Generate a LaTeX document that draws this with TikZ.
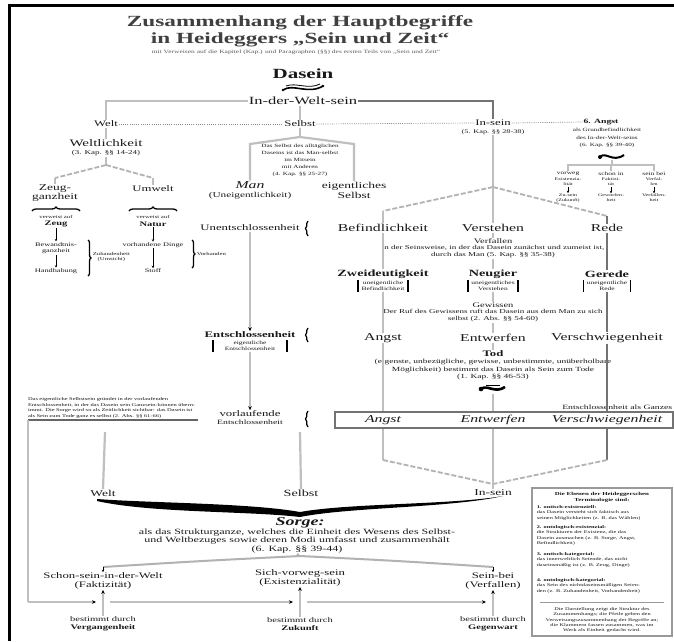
\documentclass[tikz,border=0pt]{standalone}
\usepackage{fontspec}
\setmainfont{Liberation Serif}[FakeStretch=1.5]
\usetikzlibrary{decorations.pathreplacing,arrows.meta}
\begin{document}
\begin{tikzpicture}[x=1pt,y=-1pt,
  every node/.style={inner sep=0.6pt,align=center,text=black!90},
  F/.style 2 args={font=\fontsize{#1}{#2}\selectfont},
  FB/.style 2 args={font=\fontsize{#1}{#2}\selectfont\bfseries},
  FI/.style 2 args={font=\fontsize{#1}{#2}\selectfont\itshape},
  FBI/.style 2 args={font=\fontsize{#1}{#2}\selectfont\bfseries\itshape},
  gl/.style={draw=black!25,line width=2.2pt},
  dgl/.style={draw=black!55,line width=2.2pt},
  dsh/.style={draw=black!30,line width=1.8pt,dash pattern=on 5pt off 2pt},
  dot/.style={draw=black!45,line width=0.7pt,dash pattern=on 1pt off 1.2pt},
  brc/.style={draw=black,line width=1.3pt,decorate,decoration={brace,amplitude=#1}},
  brc/.default=3pt,
  arr/.style={-{Stealth[length=4pt,width=3.5pt,color=black]}},
  tick/.style={draw=black,line width=0.7pt,-{Stealth[length=2.5pt,width=2.5pt]}},
]
\fill[white] (0,0) rectangle (674,641);
\useasboundingbox (0,0) rectangle (674,641);
\draw[line width=3pt] (9.5,641) -- (9.5,5) -- (674,5);

% ---------- title ----------
\node[FB={15.5}{17},text=black!75] (t1) at (300,23) {Zusammenhang der Hauptbegriffe};
\node[FB={15.5}{17},text=black!75] (t2) at (300,40) {in Heideggers „Sein und Zeit“};
\node[F={5}{6},text=black!65] (t3) at (296,52) {mit Verweisen auf die Kapitel (Kap.) und Paragraphen (§§) des ersten Teils von „Sein und Zeit“};

\node[FB={14}{15}] (dasein) at (303,74) {Dasein};
\draw[line width=1.6pt] (283,90) .. controls (293,83) and (308,95) .. (323,86);
\draw[line width=0.8pt] (286,86) .. controls (296,82) and (308,90) .. (320,84);
\fill (283,90) circle (1.3pt); \fill (323,86) circle (1.3pt);
\node[F={11}{12}] (idw) at (303,101) {In-der-Welt-sein};

% ---------- first row ----------
\node[F={8.5}{9}] (welt) at (106,124) {Welt};
\node[F={8.5}{9}] (selbst) at (300,124) {Selbst};
\node[F={8.5}{9}] (insein) at (493,123) {In-sein};
\node[FB={6.5}{7}] (angst0) at (601,122) {6. Angst};
\draw[gl] (idw.west) -| (welt.north);
\draw[dgl] (idw.east) -| (insein.north);
\draw[gl] (selbst.north |- idw.south) -- (selbst.north);
\draw[dot] (welt.east) -- (selbst.west);
\draw[dot] (selbst.east) -- (insein.west);
\draw[dot] (insein.east) -- (angst0.west);

% ---------- Angst cluster ----------
\node[F={4.8}{7.5}] (angstt) at (607,138) {als Grundbefindlichkeit\\des In-der-Welt-seins\\(6. Kap. §§ 39-40)};
\draw[line width=2pt] (600,157) .. controls (606,151) and (612,163) .. (624,155);
\fill (600,157) circle (2pt);
\coordinate (ab) at (612,165);
\draw[gl,line width=1.5pt] (612,160) -- (ab);
\node[F={5}{6}] (sv) at (568,174) {vorweg};
\node[F={5}{6}] (ss) at (611,174) {schon in};
\node[F={5}{6}] (sb) at (654,174) {sein bei};
\draw[gl,line width=1.5pt] (sv.north) -- (sv.north |- ab) -- (sb.north |- ab) -- (sb.north);
\draw[gl,line width=1.5pt] (ss.north |- ab) -- (ss.north);
\node[F={4}{4.8}] (sv1) at (568,182) {Existenzia-\\lität};
\node[F={4}{4.8}] (ss1) at (611,182) {Faktizi-\\tät};
\node[F={4}{4.8}] (sb1) at (654,182) {Verfal-\\len};
\node[F={4}{4.8}] (sv2) at (568,198) {Zu-sein\\(Zukunft)};
\node[F={4}{4.8}] (ss2) at (611,198) {Geworfen-\\heit};
\node[F={4}{4.8}] (sb2) at (654,198) {Verfallen-\\heit};
\draw[tick] (sv1.south) -- (sv2.north);
\draw[tick] (ss1.south) -- (ss2.north);
\draw[tick] (sb1.south) -- (sb2.north);

% ---------- Welt column ----------
\node[F={10}{11}] (wl) at (106,143) {Weltlichkeit};
\node[F={6}{7}] (wlk) at (106,153) {(3. Kap. §§ 14-24)};
\draw[gl] (welt.south) -- (wl.north);
\coordinate (wa) at (106,165);
\draw[gl] (wlk.south) -- (wa);
\node[F={9}{9}] (zg) at (55,193) {Zeug-\\ganzheit};
\node[F={8.5}{9}] (um) at (153,189) {Umwelt};
\draw[dsh] (wa) -- (55,178);
\draw[dsh] (wa) -- (153,178);
\draw[gl] (55,178) -- (zg.north);
\draw[gl] (153,178) -- (um.north);
\draw[brc=4pt] (32,211) -- (80,211);
\draw[brc=4pt] (129,211) -- (177,211);
\node[F={4.5}{5}] (v1) at (56,217) {verweist auf};
\node[FB={7}{7}] (z1) at (56,224) {Zeug};
\node[F={4.5}{5}] (v2) at (153,217) {verweist auf};
\node[FB={7}{7}] (z2) at (153,224) {Natur};
\node[F={5.5}{6.5}] (b1) at (56,248) {Bewandtnis-\\ganzheit};
\node[F={5.5}{6.5}] (h1) at (56,271) {Handhabung};
\node[F={5.5}{6.5}] (b2) at (153,245) {vorhandene Dinge};
\node[F={5.5}{6.5}] (h2) at (153,271) {Stoff};
\draw[tick] (z1.south) -- (b1.north);
\draw[tick] (b1.south) -- (h1.north);
\draw[tick] (z2.south) -- (b2.north);
\draw[tick] (b2.south) -- (h2.north);
\draw[brc=3pt] (88,240) -- (88,276);
\node[F={4.5}{5.5},anchor=west] (zh) at (92,257) {Zuhandenheit\\(Umsicht)};
\draw[brc=3pt] (192,240) -- (192,268);
\node[F={4.5}{5.5},anchor=west] (vh) at (196,254) {Vorhanden};

% ---------- Selbst column ----------
\coordinate (sa) at (300,137);
\node[F={4.8}{7}] (stx) at (300,160) {Das Selbst des alltäglichen\\Daseins ist das Man-selbst\\im Mitsein\\mit Anderen\\(4. Kap. §§ 25-27)};
\node[FI={10.5}{11}] (man) at (250,185) {Man};
\node[F={7.5}{8}] (unei) at (250,196) {(Uneigentlichkeit)};
\node[F={9}{10}] (eig) at (354,190) {eigentliches\\Selbst};
\draw[gl] (selbst.south) -- (sa);
\draw[gl] (sa) -- (250,144) -- (man.north);
\draw[gl] (sa) -- (354,144) -- (eig.north);

\node[F={8.5}{9}] (unent) at (250,228) {Unentschlossenheit};
\draw[brc=2.5pt] (308,236) -- (308,221);
\node[FB={8.5}{9}] (ent) at (250,335) {Entschlossenheit};
\node[F={5}{6}] (entp) at (250,346) {eigentliche\\Entschlossenheit};
\draw[line width=1.5pt] (213,340) -- (213,352);
\draw[line width=1.5pt] (287,340) -- (287,352);
\draw[brc=2.5pt] (308,342) -- (308,328);
\node[F={8.5}{9}] (vorl) at (250,414) {vorlaufende};
\node[F={6.5}{7}] (vorle) at (250,422.5) {Entschlossenheit};
\draw[brc=2.5pt] (308,427) -- (308,411);
\draw[gl,arr] (unent.south) -- (ent.north);
\draw[gl,arr] (entp.south) -- (vorl.north);

\node[F={4.3}{5.4},text width=172pt,align=left] (note) at (114,408) {Das eigentliche Selbstsein gründet in der vorlaufenden Entschlossenheit, in der das Dasein sein Ganzsein-können übernimmt. Die Sorge wird so als Zeitlichkeit sichtbar: das Dasein ist als Sein zum Tode ganz es selbst (2. Abs. §§ 61-66)};
\draw[draw=black!60,line width=1.3pt] (28,420) -- (198,420);

% ---------- In-sein column ----------
\node[F={5.5}{6}] (inseink) at (493,132) {(5. Kap. §§ 28-38)};
\coordinate (ir) at (493,187);
\draw[gl] (inseink.south) -- (ir);
\node[F={10.5}{11}] (bef) at (383,228) {Befindlichkeit};
\node[F={10.5}{11}] (verst) at (493,228) {Verstehen};
\node[F={10.5}{11}] (rede) at (607,228) {Rede};
\draw[dsh] (ir) -- (383,211);
\draw[dsh] (ir) -- (607,216);
\draw[gl] (383,211) -- (bef.north);
\draw[dgl] (607,216) -- (rede.north);
\draw[gl] (ir) -- (verst.north);

\node[F={7}{7}] (verf) at (493,241) {Verfallen};
\node[F={6}{7},fill=white] (verft) at (493,251.5) {in der Seinsweise, in der das Dasein zunächst und zumeist ist,\\durch das Man (5. Kap. §§ 35-38)};
\draw[gl] (verst.south) -- (verf.north);

\node[FB={9.5}{10}] (zw) at (383,274) {Zweideutigkeit};
\node[FB={9.5}{10}] (neu) at (493,274) {Neugier};
\node[FB={9.5}{10}] (ger) at (607,274) {Gerede};
\node[F={5}{6}] (zwp) at (383,286) {uneigentliche\\Befindlichkeit};
\node[F={5}{6}] (neup) at (493,286) {uneigentliches\\Verstehen};
\node[F={5}{6}] (gerp) at (607,286) {uneigentliche\\Rede};
\foreach \n in {zwp,neup,gerp}{
  \draw[line width=1.6pt] ([xshift=-2.5pt]\n.north west) -- ([xshift=-2.5pt]\n.south west);
  \draw[line width=1.6pt] ([xshift=2.5pt]\n.north east) -- ([xshift=2.5pt]\n.south east);
}
\draw[gl] (verft.south) -- (neu.north);

\node[F={7}{7}] (gew) at (493,305) {Gewissen};
\node[F={6}{7},fill=white] (gewt) at (493,316) {Der Ruf des Gewissens ruft das Dasein aus dem Man zu sich\\selbst (2. Abs. §§ 54-60)};
\draw[gl] (neup.south) -- (gew.north);

\node[F={10.5}{11}] (ang) at (383,338) {Angst};
\node[F={10.5}{11}] (entw) at (493,338) {Entwerfen};
\node[F={10.5}{11}] (versch) at (607,338) {Verschwiegenheit};
\draw[gl] (bef.south) -- (zw.north);
\draw[gl] (zwp.south) -- (ang.north);
\draw[dgl] (rede.south) -- (ger.north);
\draw[dgl] (gerp.south) -- (versch.north);
\draw[gl] (gewt.south) -- (entw.north);

\node[FB={8.5}{9}] (tod) at (493,354) {Tod};
\node[F={6.3}{7.5},fill=white] (todt) at (493,369.5) {(eigenste, unbezügliche, gewisse, unbestimmte, unüberholbare\\Möglichkeit) bestimmt das Dasein als Sein zum Tode\\(1. Kap. §§ 46-53)};
\draw[gl] (entw.south) -- (tod.north);
\coordinate (sym) at (493,389);
\draw[line width=2.6pt] (481,389) .. controls (487,384) and (495,394) .. (505,387);
\fill (481,389) circle (2.3pt);
\draw[line width=1pt] (486,385) -- (500,385);

\node[draw=black!55,line width=1.6pt,minimum width=338pt,minimum height=16pt,inner sep=0pt] (box) at (504,420) {};
\node[FI={10.5}{11}] (ba) at (383,420) {Angst};
\node[FI={10.5}{11}] (be) at (493,420) {Entwerfen};
\node[FI={10.5}{11}] (bv) at (607,420) {Verschwiegenheit};
\node[F={6.5}{7},anchor=south east] (eag) at (673,410) {Entschlossenheit als Ganzes};
\draw[gl] (ang.south) -- (ang.south |- box.north);
\draw[dgl] (versch.south) -- (versch.south |- box.north);
\draw[gl] (493,394) -- (be |- box.north);

\coordinate (cl) at (383,460);
\coordinate (cr) at (607,460);
\coordinate (cv) at (493,484);
\draw[gl] (ba |- box.south) -- (cl);
\draw[dgl] (bv |- box.south) -- (cr);
\draw[dsh] (cl) -- (cv);
\draw[dsh] (cr) -- (cv);
\node[F={9}{9}] (insb) at (493,493) {In-sein};
\draw[gl] (be |- box.south) -- (insb.north);

% ---------- bottom part ----------
\node[F={9}{9}] (weltb) at (103,493) {Welt};
\node[F={9.5}{9}] (selbstb) at (301,493) {Selbst};
\draw[gl] (105,432) -- (weltb.north);
\draw[gl] (300,432) -- (selbstb.north);

\fill[black] (97,499) .. controls (150,503) and (250,503) .. (300,512)
  .. controls (350,503) and (450,505) .. (503,496)
  .. controls (450,508) and (350,507) .. (300,517)
  .. controls (250,511) and (150,513) .. (97,501) -- cycle;

\node[FBI={12}{12}] (sorge) at (300,523) {Sorge:};
\node[F={8}{7}] (sorgt) at (297,541) {als das Strukturganze, welches die Einheit des Wesens des Selbst-\\und Weltbezuges sowie deren Modi umfasst und zusammenhält\\(6. Kap. §§ 39-44)};

\coordinate (gt) at (300,556);
\draw[draw=black!30,line width=2pt] (103,567) .. controls (200,561) .. (gt) .. controls (400,561) .. (493,567);
\draw[draw=black!30,line width=1.5pt] (sorgt.south) -- (gt);

\node[F={8.5}{8.5}] (r1) at (103,581) {Schon-sein-in-der-Welt\\(Faktizität)};
\node[F={8.5}{8.5}] (r2) at (300,578) {Sich-vorweg-sein\\(Existenzialität)};
\node[F={8.5}{8.5}] (r3) at (493,581) {Sein-bei\\(Verfallen)};
\draw[tick] (103,567) -- (r1.north);
\draw[tick] (493,567) -- (r3.north);

\node[F={7}{8}] (g1) at (103,624) {bestimmt durch\\\textbf{Vergangenheit}};
\node[F={7}{8}] (g2) at (300,624) {bestimmt durch\\\textbf{Zukunft}};
\node[F={7}{8}] (g3) at (493,624) {bestimmt durch\\\textbf{Gegenwart}};
\draw[gl,arr] (g1.north) -- (r1.south);
\draw[gl,arr] (g2.north) -- (r2.south);
\draw[gl,arr] (g3.north) -- (r3.south);

\coordinate (lc) at (28,602);
\draw[gl] (28,420) -- (lc);
\draw[gl,arr] (lc) -- (96,602);
\draw[gl,arr] (110,602) -- (293,602);
\draw[gl,arr] (307,602) -- (486,602);

% ---------- legend box ----------
\node[draw=black!40,line width=1.5pt,minimum width=140pt,minimum height=148pt,inner sep=0pt] (leg) at (602,562) {};
\node[FB={4.6}{6}] (lh) at (602,497) {Die Ebenen der Heideggerschen\\Terminologie sind:};
\node[F={4.2}{5.2},anchor=north west,align=left] (l1) at (536,505) {\textbf{1. ontisch-existenziell:}\\das Dasein versteht sich faktisch aus\\seinen Möglichkeiten (z. B. das Wählen)};
\node[F={4.2}{5.2},anchor=north west,align=left] (l2) at (536,525) {\textbf{2. ontologisch-existenzial:}\\die Strukturen der Existenz, die das\\Dasein ausmachen (z. B. Sorge, Angst,\\Befindlichkeit)};
\node[F={4.2}{5.2},anchor=north west,align=left] (l3) at (536,552) {\textbf{3. ontisch-kategorial:}\\das innerweltlich Seiende, das nicht\\daseinsmäßig ist (z. B. Zeug, Dinge)};
\node[F={4.2}{5.2},anchor=north west,align=left] (l4) at (536,578) {\textbf{4. ontologisch-kategorial:}\\das Sein des nichtdaseinsmäßigen Seien-\\den (z. B. Zuhandenheit, Vorhandenheit)};
\draw[draw=black!40,line width=1pt] (540,602) -- (664,602);
\node[F={4.2}{5.2}] (lp) at (602,620) {Die Darstellung zeigt die Struktur des\\Zusammenhangs; die Pfeile geben den\\Verweisungszusammenhang der Begriffe an;\\die Klammern fassen zusammen, was im\\Werk als Einheit gedacht wird.};
\end{tikzpicture}
\end{document}
